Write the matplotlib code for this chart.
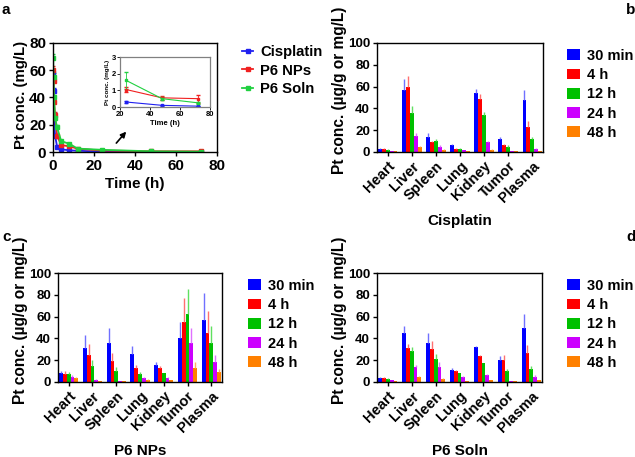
import numpy as np
import matplotlib
matplotlib.use("Agg")
import matplotlib.pyplot as plt
from matplotlib.lines import Line2D

plt.rcParams['font.family'] = ['Liberation Sans', 'DejaVu Sans']
plt.rcParams['font.weight'] = 'bold'
plt.rcParams['axes.labelweight'] = 'bold'
plt.rcParams['axes.linewidth'] = 1.0

# ---- Panel a data ----
time_h = [0.083, 0.25, 0.5, 1, 2, 4, 8, 12, 24, 48, 72]
cis_pk = [58, 45, 27, 12, 4.0, 2.0, 1.2, 0.9, 0.3, 0.1, 0.05]
cis_pk_err = [2, 2, 2, 1, 0.5, 0.3, 0.2, 0.1, 0.05, 0.02, 0.01]
nps_pk = [60, 52, 37, 27, 12, 5.0, 4.2, 2.4, 1.05, 0.55, 0.5]
nps_pk_err = [3, 3, 2, 2, 1.5, 0.8, 0.5, 0.3, 0.15, 0.1, 0.25]
soln_pk = [69, 55, 40, 25, 18, 8, 6, 2.5, 1.6, 0.5, 0.25]
soln_pk_err = [3, 3, 2, 2, 2, 1, 0.8, 0.4, 0.5, 0.1, 0.05]
pk_labels = ['Cisplatin', 'P6 NPs', 'P6 Soln']
pk_colors = ['#2020F0', '#F02020', '#20D040']

# ---- Biodistribution data ----
organs = ['Heart', 'Liver', 'Spleen', 'Lung', 'Kidney', 'Tumor', 'Plasma']
times = ['30 min', '4 h', '12 h', '24 h', '48 h']
bar_colors = ['#0000FF', '#FF0000', '#00C000', '#CC00FF', '#FF8000']
err_colors = ['#7070FF', '#FF7070', '#60E060', '#E070FF', '#FFB060']

cis_mean = [
    [3, 57, 14, 6, 54, 12, 48],
    [3, 60, 9, 3, 49, 6, 23],
    [2, 36, 10, 3, 34, 5, 12],
    [1, 15, 5, 1.5, 9, 1, 3],
    [0.5, 5, 2, 0.5, 2, 0.5, 1],
]
cis_top = [
    [3.5, 67, 17, 7, 58, 13.5, 57],
    [3.5, 70, 10, 3.5, 53, 7, 28],
    [2.5, 42, 12, 3.5, 37, 6, 14],
    [1.2, 17, 6, 2, 10, 1.2, 4],
    [0.6, 5.5, 2.5, 0.6, 2.5, 0.6, 1.2],
]
nps_mean = [
    [8, 31, 36, 26, 16, 40, 57],
    [7, 25, 19, 13, 13, 55, 45],
    [7, 15, 10, 7, 8, 62, 36],
    [5, 2, 1, 4, 4, 36, 18],
    [4, 1, 1, 2, 1.5, 13, 9],
]
nps_top = [
    [10, 43, 50, 33, 18, 55, 82],
    [10, 35, 27, 16, 15, 77, 65],
    [9, 20, 14, 9, 8.5, 85, 51],
    [6, 2.5, 1.2, 5, 4.5, 50, 25],
    [5, 1.2, 1.2, 2.5, 2, 18, 12],
]
soln_mean = [
    [4, 45, 36, 11, 32, 20, 50],
    [4, 31, 30, 10, 24, 20, 27],
    [3, 28, 21, 8, 17, 10, 12],
    [2, 14, 14, 5, 6, 0.5, 5],
    [1, 5, 3, 0.5, 1.5, 0.5, 1.5],
]
soln_top = [
    [4.5, 51, 45, 13, 33, 24, 62],
    [4.5, 35, 38, 11, 24.5, 25, 34],
    [3.5, 32, 26, 8.5, 17.5, 12, 15],
    [2.2, 16, 18, 5.5, 7, 0.7, 6],
    [1.2, 5.5, 3.5, 0.7, 2, 0.7, 2],
]

W, H = 635, 457
fig = plt.figure(figsize=(W / 100, H / 100), dpi=100)


def px_axes(x0, x1, y0, y1):
    return fig.add_axes([x0 / W, 1 - y1 / H, (x1 - x0) / W, (y1 - y0) / H])


# ---- Panel a ----
axa = px_axes(53, 217, 43, 152)
series = [(cis_pk, cis_pk_err), (nps_pk, nps_pk_err), (soln_pk, soln_pk_err)]
handles = []
for (vals, errs), lab, col in zip(series, pk_labels, pk_colors):
    axa.errorbar(time_h, vals, yerr=[np.zeros(len(errs)), errs], color=col, lw=1.3,
                 marker='s', ms=3, capsize=1.5, elinewidth=0.8)
    handles.append(Line2D([], [], color=col, lw=1.3, marker='s', ms=3, label=lab))
axa.set_xlim(0, 80)
axa.set_ylim(0, 80)
axa.set_xticks([0, 20, 40, 60, 80])
axa.set_yticks([0, 20, 40, 60, 80])
axa.tick_params(labelsize=11, width=1, length=3, pad=2)
for t in axa.get_xticklabels() + axa.get_yticklabels():
    t.set_fontweight('bold')
axa.set_xlabel('Time (h)', fontsize=11, labelpad=3)
axa.set_ylabel('Pt conc. (mg/L)', fontsize=10.8)
axa.yaxis.set_label_coords(-0.15, 0.52)
axa.annotate('', xy=(36.6, 16.5), xytext=(30, 5), xycoords='data',
             arrowprops=dict(arrowstyle='-|>', color='black', lw=1.2, mutation_scale=8))
axa.legend(handles=handles, loc='upper left', bbox_to_anchor=(1.116, 1.035),
           borderaxespad=0, frameon=False, handlelength=0.75, labelspacing=0.3,
           handletextpad=0.47, prop={'weight': 'bold', 'size': 10.7})

# inset
axi = px_axes(120, 210, 57, 107)
for (vals, errs), col in zip(series, pk_colors):
    t = np.array(time_h)
    m = t >= 24
    axi.errorbar(t[m], np.array(vals)[m], yerr=[np.array(errs)[m], np.array(errs)[m]],
                 color=col, lw=0.8, marker='s', ms=2, capsize=1.5, elinewidth=0.6)
axi.set_xlim(20, 80)
axi.set_ylim(0, 3)
axi.set_xticks([20, 40, 60, 80])
axi.set_yticks([0, 1, 2, 3])
axi.tick_params(labelsize=5.5, width=0.6, length=2, pad=1)
for t in axi.get_xticklabels() + axi.get_yticklabels():
    t.set_fontweight('bold')
axi.set_xlabel('Time (h)', fontsize=5.5, labelpad=1)
axi.set_ylabel('Pt conc. (mg/L)', fontsize=4.5, labelpad=1)
for s in axi.spines.values():
    s.set_color('#808080')
    s.set_linewidth(0.9)


# ---- bar panels ----
def bar_panel(ax, means, tops, xlabel, leg_x):
    x = np.arange(len(organs))
    bw = 0.16
    for i in range(len(times)):
        xi = x + (i - 2) * bw
        m = np.array(means[i], dtype=float)
        tp = np.array(tops[i], dtype=float)
        ax.bar(xi, m, width=bw, color=bar_colors[i], label=times[i], zorder=2)
        ax.errorbar(xi, m, yerr=[np.zeros_like(m), tp - m], fmt='none',
                    ecolor=err_colors[i], elinewidth=1.0, capsize=0, zorder=3)
    ax.set_xlim(-0.45, len(organs) - 0.55)
    ax.set_ylim(0, 100)
    ax.set_yticks([0, 20, 40, 60, 80, 100])
    ax.set_xticks(x)
    ax.set_xticklabels(organs, rotation=45, ha='right', rotation_mode='anchor',
                       fontsize=10.5, fontweight='bold')
    ax.tick_params(axis='y', labelsize=9.6, width=1, length=3, pad=2)
    ax.tick_params(axis='x', width=1, length=3, pad=2)
    for t in ax.get_yticklabels():
        t.set_fontweight('bold')
    ax.set_ylabel('Pt conc. (\u00b5g/g or mg/L)', fontsize=11.2)
    ax.yaxis.set_label_coords(-0.18, 0.57)
    ax.set_xlabel(xlabel, fontsize=11)
    ax.xaxis.set_label_coords(0.5, -0.57)
    ax.legend(loc='upper left', bbox_to_anchor=(leg_x, 1.0), borderaxespad=0,
              frameon=False, handlelength=0.9, handleheight=0.75, labelspacing=0.36,
              handletextpad=0.5, prop={'weight': 'bold', 'size': 10.5})


axb = px_axes(377, 543, 43, 152)
bar_panel(axb, cis_mean, cis_top, 'Cisplatin', 1.108)
axc = px_axes(58, 222, 273, 382)
bar_panel(axc, nps_mean, nps_top, 'P6 NPs', 1.123)
axd = px_axes(377, 542, 273, 382)
bar_panel(axd, soln_mean, soln_top, 'P6 Soln', 1.115)

for lab, (xp, yp) in zip('abcd', [(2, 10), (626, 10), (2, 237), (626, 237)]):
    fig.text(xp / W, 1 - yp / H, lab, fontsize=11, fontweight='bold', va='center', ha='left')

fig.savefig('out.png', dpi=100)
